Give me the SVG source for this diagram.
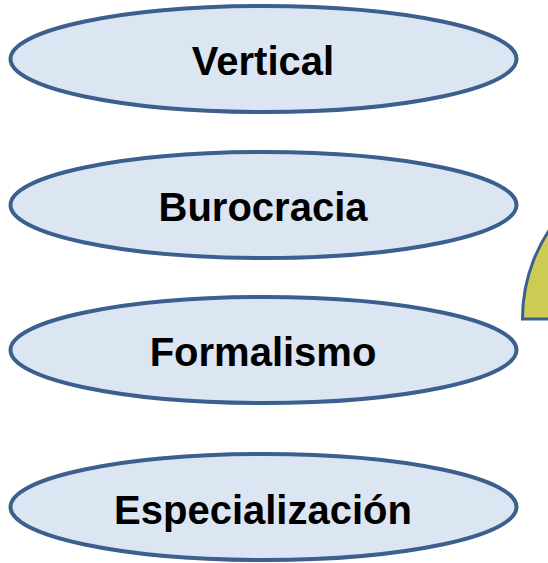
<svg xmlns="http://www.w3.org/2000/svg" width="548" height="563" viewBox="0 0 548 563">
<style>
.n{fill:#DCE6F2;stroke:#3B5F8E;stroke-width:4}
.t{font-family:"Liberation Sans",Arial,sans-serif;font-weight:bold;font-size:40px;fill:#000;text-anchor:middle}
.y{fill:#CCCC55;stroke:#3B5F8E;stroke-width:3}
</style>
<rect width="548" height="563" fill="#FFFFFF"/>
<g id="shape-yellow">
<path class="y" d="M522.5,319 A160 160 0 0 1 565,210 L565,319 Z"/>
</g>
<g id="node-vertical">
<ellipse class="n" cx="263.5" cy="59" rx="253" ry="53"/>
<text class="t" x="263" y="75">Vertical</text>
</g>
<g id="node-burocracia">
<ellipse class="n" cx="263.5" cy="205" rx="253" ry="53"/>
<text class="t" x="263" y="221">Burocracia</text>
</g>
<g id="node-formalismo">
<ellipse class="n" cx="263.5" cy="350" rx="253" ry="53"/>
<text class="t" x="263" y="366">Formalismo</text>
</g>
<g id="node-especializacion">
<ellipse class="n" cx="263.5" cy="507" rx="253" ry="53"/>
<text class="t" x="263" y="524">Especialización</text>
</g>
<g id="connectors"></g>
</svg>
